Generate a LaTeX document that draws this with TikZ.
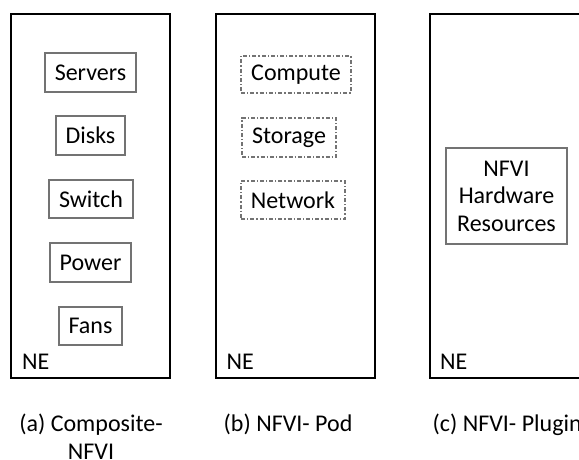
\documentclass[tikz,border=0pt]{standalone}
\usepackage{fontspec}
\setmainfont{Carlito}
\begin{document}
\begin{tikzpicture}[x=1pt,y=-1pt,
  every node/.style={font=\fontsize{24}{27.5}\selectfont, inner sep=0pt},
  nebox/.style={draw=black, line width=2pt, minimum width=159pt, minimum height=364pt},
  hwbox/.style={draw=black!55, line width=1.3pt},
  podbox/.style={draw=black!55, line width=1.1pt, dash pattern=on 4pt off 2pt on 1.3pt off 2pt},
  nelabel/.style={anchor=base west},
  caption/.style={anchor=base west, align=left}]
\useasboundingbox (0,0) rectangle (579,459);
\clip (0,0) rectangle (579,459);

% network elements
\node[nebox] (nea) at (90.5,196) {};
\node[nebox] (neb) at (295.5,196) {};
\node[nebox] (nec) at (509.5,196) {};

% (a) composite: individual hardware parts
\node[hwbox, minimum width=91pt, minimum height=39pt] (srv) at (90.5,72.5) {Servers};
\node[hwbox, minimum width=69pt, minimum height=39pt] (dsk) at (90.5,135.5) {Disks};
\node[hwbox, minimum width=84pt, minimum height=38pt] (swi) at (91,199) {Switch};
\node[hwbox, minimum width=81pt, minimum height=39pt] (pwr) at (90.5,262.5) {Power};
\node[hwbox, minimum width=63pt, minimum height=38pt] (fan) at (90.5,326) {Fans};

% (b) pod: logical resource groups
\node[podbox, minimum width=110pt, minimum height=37pt] (cmp) at (296,74.5) {Compute};
\node[podbox, minimum width=94pt, minimum height=39pt] (sto) at (289,137.5) {Storage};
\node[podbox, minimum width=104pt, minimum height=38pt] (net) at (293,200) {Network};

% (c) plugin: a single resource block
\node[hwbox, minimum width=121pt, minimum height=96pt, align=center] (hw) at (506.5,196)
  {NFVI\\Hardware\\Resources};

% NE labels
\node[nelabel] (la) at (22,369) {NE};
\node[nelabel] (lb) at (226.5,369) {NE};
\node[nelabel] (lc) at (440,369) {NE};

% captions
\node[anchor=base, align=center] (ca) at (91,459) {(a) Composite-\\NFVI};
\node[caption] (cb) at (223.5,431.5) {(b) NFVI- Pod};
\node[caption] (cc) at (432.5,431.5) {(c) NFVI- Plugin};
\end{tikzpicture}
\end{document}
